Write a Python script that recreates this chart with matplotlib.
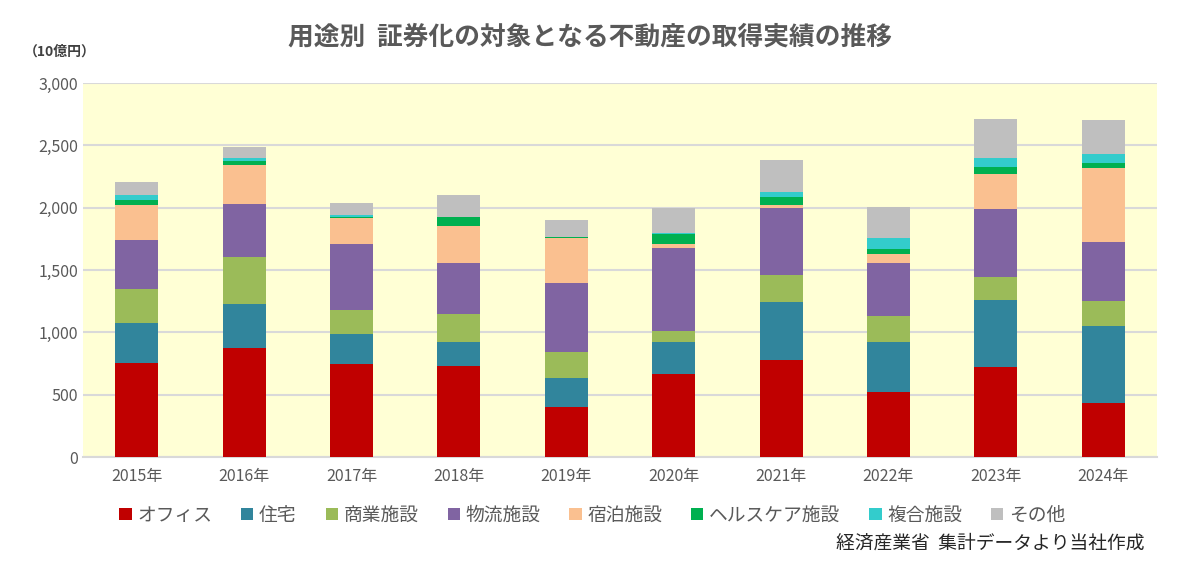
import numpy as np
import matplotlib.pyplot as plt
from matplotlib.patches import Patch

plt.rcParams['font.family'] = ['Noto Sans CJK JP', 'DejaVu Sans']

# 年
years = ['2015年', '2016年', '2017年', '2018年', '2019年',
         '2020年', '2021年', '2022年', '2023年', '2024年']

# 用途別 取得実績 (10億円)
office     = [755, 876, 750, 729, 399, 664, 780, 520, 721, 437]
housing    = [322, 354, 236, 195, 233, 260, 460, 404, 541, 616]
commercial = [268, 375, 193, 223, 209, 86, 223, 207, 182, 201]
logistics  = [396, 428, 528, 407, 552, 664, 533, 423, 547, 474]
hotel      = [282, 311, 214, 303, 367, 33, 29, 78, 278, 589]
healthcare = [40, 27, 3, 69, 8, 85, 57, 37, 56, 38]
complex_   = [40, 27, 18, 0, 0, 8, 45, 91, 75, 77]
other      = [107, 85, 99, 177, 134, 201, 257, 244, 314, 274]

labels = ['オフィス', '住宅', '商業施設', '物流施設', '宿泊施設',
          'ヘルスケア施設', '複合施設', 'その他']
colors = ['#C00000', '#31859C', '#9BBB59', '#8064A2', '#FAC090',
          '#00B050', '#33CCCC', '#BFBFBF']
series = [office, housing, commercial, logistics, hotel,
          healthcare, complex_, other]

fig = plt.figure(figsize=(11.8, 5.71), dpi=100)
ax = fig.add_axes([0.0703, 0.1996, 0.9102, 0.655])
ax.set_facecolor('#FFFFD5')

x = np.arange(len(years))
bottom = np.zeros(len(years))
for vals, col, lab in zip(series, colors, labels):
    ax.bar(x, vals, width=0.4, bottom=bottom, color=col, label=lab, zorder=3)
    bottom += np.array(vals)

ax.set_ylim(0, 3000)
ax.set_xlim(-0.5, len(years) - 0.5)
ax.set_yticks(np.arange(0, 3001, 500))
ax.set_yticklabels([f'{v:,}' for v in range(0, 3001, 500)])
ax.set_xticks(x)
ax.set_xticklabels(years)
ax.yaxis.grid(True, color='#D9D9D9', linewidth=1.5, zorder=0)
ax.tick_params(axis='both', length=0, labelsize=11.5, colors='#595959')
ax.tick_params(axis='x', pad=8)
for s in ['top', 'right', 'left']:
    ax.spines[s].set_visible(False)
ax.spines['bottom'].set_color('#D9D9D9')
ax.spines['bottom'].set_linewidth(1.5)

fig.text(0.5, 0.935, '用途別  証券化の対象となる不動産の取得実績の推移',
         ha='center', va='center', fontsize=18.5, fontweight='bold',
         color='#595959')
fig.text(0.02, 0.91, '（10億円）', ha='left', va='center', fontsize=10,
         fontweight='bold', color='#404040')

handles = [Patch(facecolor=c, label=l) for c, l in zip(colors, labels)]
fig.legend(handles=handles, loc='center', bbox_to_anchor=(0.502, 0.098),
           ncol=8, frameon=False, fontsize=13.5, handlelength=0.65,
           handleheight=0.65, handletextpad=0.3, columnspacing=1.55,
           labelcolor='#595959')

fig.text(0.97, 0.048, '経済産業省  集計データより当社作成', ha='right',
         va='center', fontsize=13.5, color='#262626')

fig.savefig('out.png', dpi=100)
